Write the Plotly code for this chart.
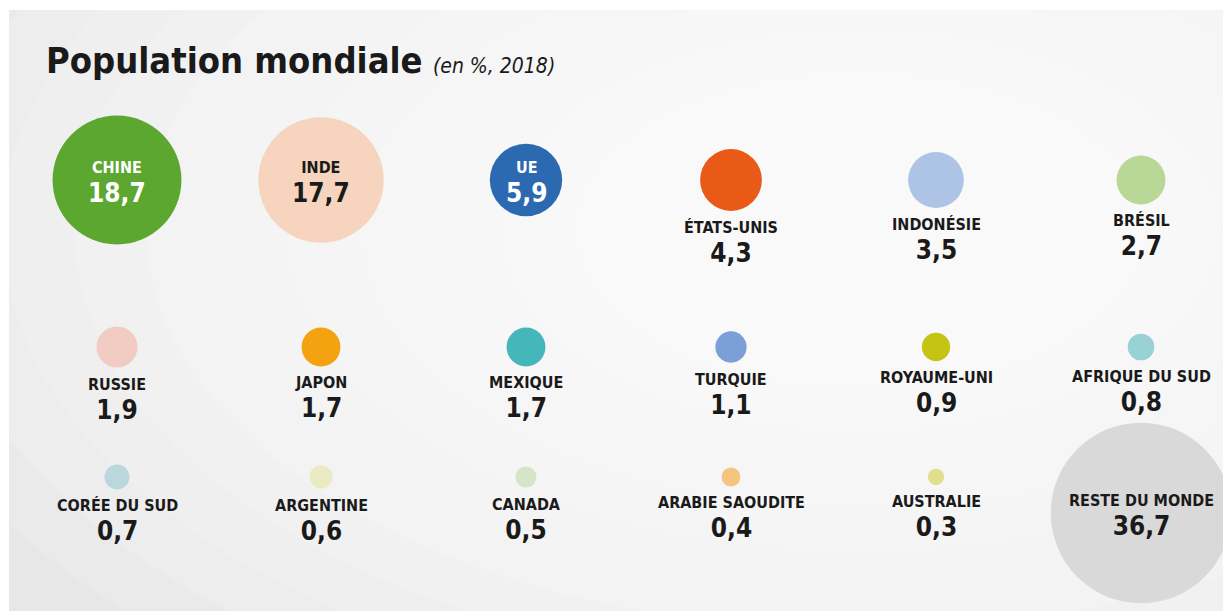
import math
import plotly.graph_objects as go

# ---- data ----
countries = ["CHINE", "INDE", "UE", "ÉTATS-UNIS", "INDONÉSIE", "BRÉSIL",
             "RUSSIE", "JAPON", "MEXIQUE", "TURQUIE", "ROYAUME-UNI", "AFRIQUE DU SUD",
             "CORÉE DU SUD", "ARGENTINE", "CANADA", "ARABIE SAOUDITE", "AUSTRALIE", "RESTE DU MONDE"]
shares = [18.7, 17.7, 5.9, 4.3, 3.5, 2.7,
          1.9, 1.7, 1.7, 1.1, 0.9, 0.8,
          0.7, 0.6, 0.5, 0.4, 0.3, 36.7]
colors = ["#5ba72f", "#f6d4bd", "#2b69b1", "#e85a16", "#adc4e7", "#b9d897",
          "#f2cbc3", "#f2a30f", "#45b6ba", "#7d9fd7", "#c5c414", "#98d2d7",
          "#b9d7dd", "#ebebc3", "#d5e5c6", "#f4c57f", "#e0df90", "#d9d9d9"]
inside_label = [True, True, True, False, False, False,
                False, False, False, False, False, False,
                False, False, False, False, False, True]
inside_text_color = ["#ffffff", "#1a1a1a", "#ffffff"] + ["#1a1a1a"] * 15

# ---- layout constants (pixel geometry) ----
W, H = 1223, 611
col_x = [117, 321, 526, 731, 936, 1141]
row_y = [180, 347, 477]
K = 29.8  # px of diameter per sqrt(%)

FONT = "DejaVu Sans Condensed, Liberation Sans Narrow, sans-serif"
BASE = 22          # sets line spacing (1.3 em)
NAME_SIZE, VAL_SIZE = 16, 26

xs, ys, sizes = [], [], []
for i, v in enumerate(shares):
    c, r = i % 6, i // 6
    y = row_y[r]
    if countries[i] == "RESTE DU MONDE":
        y = 513
    xs.append(col_x[c])
    ys.append(y)
    sizes.append(K * math.sqrt(v))

fig = go.Figure()
fig.add_trace(go.Scatter(
    x=xs, y=ys, mode="markers",
    marker=dict(size=sizes, sizemode="diameter", sizeref=1, color=colors,
                line=dict(width=0), opacity=1),
    hovertext=[f"{n}: {str(v).replace('.', ',')} %" for n, v in zip(countries, shares)],
    hoverinfo="text", showlegend=False,
))

annotations = []
for i, (n, v) in enumerate(zip(countries, shares)):
    vs = f"{v:.1f}".replace(".", ",")
    txt = (f"<span style='font-size:{NAME_SIZE}px'>{n}</span><br>"
           f"<span style='font-size:{VAL_SIZE}px'>{vs}</span>")
    if inside_label[i]:
        col = inside_text_color[i]
        annotations.append(dict(x=xs[i], y=ys[i], text=txt, showarrow=False, xref="x", yref="y",
                                xanchor="center", yanchor="middle", yshift=-3,
                                font=dict(family=FONT, size=BASE, color=col, weight="bold")))
    else:
        off = sizes[i] / 2 + 5
        annotations.append(dict(x=xs[i], y=ys[i], text=txt, showarrow=False, xref="x", yref="y",
                                xanchor="center", yanchor="top", yshift=-off,
                                font=dict(family=FONT, size=BASE, color="#1a1a1a", weight="bold")))

# title
annotations.append(dict(x=44 / W, y=1 - 61 / H, xref="paper", yref="paper", xanchor="left", yanchor="middle",
                        showarrow=False,
                        text="<b>Population mondiale</b> <span style='font-size:21px;font-weight:300'><i>(en %, 2018)</i></span>",
                        font=dict(family=FONT, size=36, color="#1a1a1a")))

shapes = [
    dict(type="rect", xref="paper", yref="paper", x0=9 / W, x1=1, y0=0, y1=1 - 10 / H,
         fillcolor="#e7e7e7", line=dict(width=0), layer="below"),
]
# soft radial lightening (stack of faint white ellipses)
n_steps = 14
for k in range(n_steps):
    f = 1 - k / n_steps
    cx, cy = 860, 230
    rx, ry = 1000 * f, 560 * f
    shapes.append(dict(type="circle", xref="x", yref="y", x0=cx - rx, x1=cx + rx, y0=cy - ry, y1=cy + ry,
                       fillcolor="#ffffff", opacity=0.14, line=dict(width=0), layer="below"))

fig.update_layout(
    width=W, height=H,
    margin=dict(l=0, r=0, t=0, b=0),
    paper_bgcolor="#ffffff", plot_bgcolor="rgba(0,0,0,0)",
    xaxis=dict(range=[0, W], visible=False, fixedrange=True),
    yaxis=dict(range=[H, 0], visible=False, fixedrange=True),
    annotations=annotations, shapes=shapes,
)

fig.write_html("out.html", config={"displayModeBar": False},
               post_script="document.body.style.margin='0';document.body.style.padding='0';")
